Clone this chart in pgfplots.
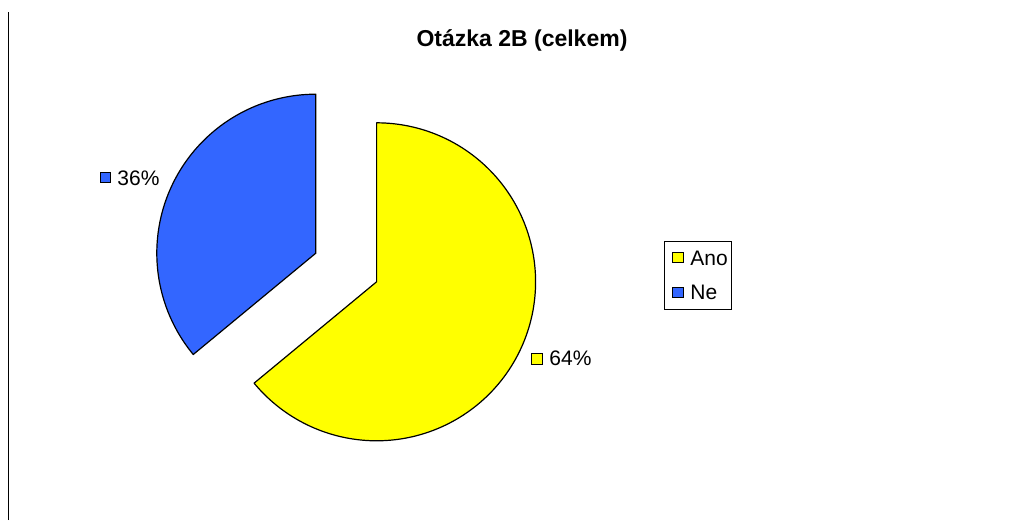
\documentclass[border=0pt]{standalone}
\usepackage{pgfplots}
\usepackage{pgfplotstable}
\pgfplotsset{compat=1.18}
\usepackage{fontspec}
\setmainfont{Liberation Sans}
\definecolor{pieyellow}{HTML}{FFFF00}
\definecolor{pieblue}{HTML}{3366FF}
\pgfplotstableread{
label value
Ano 64
Ne 36
}\piedata
\pgfplotstablegetelem{0}{value}\of\piedata \let\valA\pgfplotsretval
\pgfplotstablegetelem{1}{value}\of\piedata \let\valB\pgfplotsretval
\pgfmathsetmacro{\fracA}{\valA/(\valA+\valB)}
\pgfmathsetmacro{\fracB}{\valB/(\valA+\valB)}
\pgfmathsetmacro{\angA}{90-360*\fracA}
\pgfmathsetmacro{\angB}{90+360*\fracB}
\pgfmathsetmacro{\midA}{(90+\angA)/2}
\pgfmathsetmacro{\midB}{(90+\angB)/2}
\def\R{159}
\def\cx{346.2}
\def\cy{252.5}
\def\ex{33.6}
\pgfmathsetmacro{\ax}{\cx+\ex*cos(\midA)}
\pgfmathsetmacro{\ay}{\cy+\ex*sin(\midA)}
\pgfmathsetmacro{\bx}{\cx+\ex*cos(\midB)}
\pgfmathsetmacro{\by}{\cy+\ex*sin(\midB)}
\begin{document}
\begin{tikzpicture}
\begin{axis}[
  scale only axis, width=512pt, height=260pt,
  xmin=0, xmax=1024, ymin=0, ymax=520,
  hide axis, clip=false,
  font=\fontsize{10.5}{12}\selectfont,
]
\addplot[draw=none] coordinates {(0,0) (1024,520)};
% yellow slice (Ano)
\addplot[fill=pieyellow, draw=black, line width=0.6pt, domain=\angA:90, samples=150, line join=round]
  ({\ax+\R*cos(x)},{\ay+\R*sin(x)}) -- (axis cs:\ax,\ay) -- cycle;
% blue slice (Ne)
\addplot[fill=pieblue, draw=black, line width=0.6pt, domain=90:\angB, samples=100, line join=round]
  ({\bx+\R*cos(x)},{\by+\R*sin(x)}) -- (axis cs:\bx,\by) -- cycle;
% left line
\draw[black, line width=0.5pt] (axis cs:8,0) -- (axis cs:8,508);
% title
\node[font=\fontsize{11.5}{13}\selectfont\bfseries] at (axis cs:522,480) {Otázka 2B (celkem)};
% data labels
\draw[fill=pieblue, line width=0.5pt] (axis cs:100.5,337) rectangle (axis cs:110.5,347);
\node[anchor=west, inner sep=0pt] at (axis cs:117,342) {36\%};
\draw[fill=pieyellow, line width=0.5pt] (axis cs:531.5,156) rectangle (axis cs:542,166.5);
\node[anchor=west, inner sep=0pt] at (axis cs:549,161.5) {64\%};
% legend
\draw[line width=0.5pt] (axis cs:664,211) rectangle (axis cs:731.7,278.3);
\draw[fill=pieyellow, line width=0.5pt] (axis cs:672.7,257) rectangle (axis cs:683.3,267);
\node[anchor=west, inner sep=0pt] at (axis cs:690,262) {Ano};
\draw[fill=pieblue, line width=0.5pt] (axis cs:672.7,223) rectangle (axis cs:683.3,233);
\node[anchor=west, inner sep=0pt] at (axis cs:690,228) {Ne};
\end{axis}
\end{tikzpicture}
\end{document}
